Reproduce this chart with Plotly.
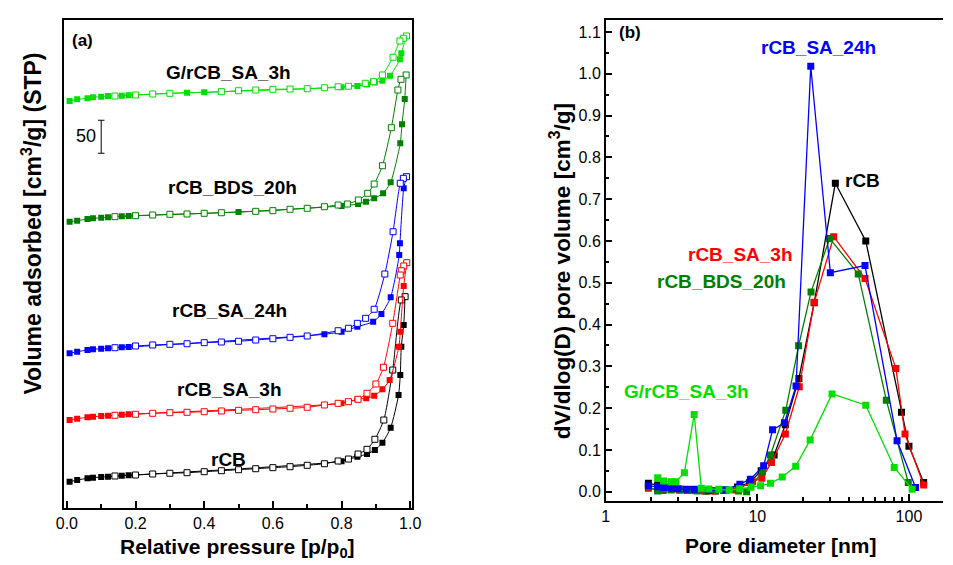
import plotly.graph_objects as go

# ---------------- (a) N2 adsorption/desorption isotherms (vertically offset) ----------------
# rCB
P_ADS_RCB = [0.008, 0.03, 0.06, 0.076, 0.10, 0.12, 0.16, 0.18, 0.80, 0.846, 0.874, 0.897, 0.919, 0.943, 0.966, 0.971, 0.974, 0.981, 0.985]
V_ADS_RCB = [39.8, 42.4, 45.0, 45.9, 47.0, 47.4, 48.9, 49.5, 70.8, 77.7, 81.8, 87.9, 98.9, 121.7, 171.2, 201.5, 244.4, 277.3, 320.2]
P_DES_RCB = [0.985, 0.974, 0.949, 0.923, 0.897, 0.874, 0.848, 0.82, 0.79, 0.75, 0.70, 0.65, 0.60, 0.55, 0.50, 0.45, 0.40, 0.35, 0.30, 0.25, 0.20, 0.14]
V_DES_RCB = [320.2, 315.2, 209.1, 133.3, 104.1, 88.9, 81.8, 74.2, 71.2, 67.1, 64.7, 62.6, 61.1, 59.5, 58.0, 56.5, 55.0, 53.5, 52.6, 51.5, 50.0, 48.5]

# rCB_SA_3h
P_ADS_SA3 = [0.008, 0.03, 0.06, 0.076, 0.10, 0.12, 0.16, 0.18, 0.80, 0.846, 0.872, 0.895, 0.919, 0.94, 0.967, 0.971, 0.981, 0.99]
V_ADS_SA3 = [133.3, 135.3, 137.4, 138.3, 139.4, 139.8, 141.4, 142.0, 158.6, 164.7, 166.2, 170.2, 179.8, 193.9, 244.4, 267.1, 336.4, 371.7]
P_DES_SA3 = [0.99, 0.981, 0.974, 0.971, 0.949, 0.922, 0.90, 0.874, 0.848, 0.82, 0.79, 0.75, 0.70, 0.65, 0.60, 0.55, 0.50, 0.45, 0.40, 0.35, 0.30, 0.25, 0.20, 0.14]
V_DES_SA3 = [371.7, 366.7, 359.5, 353.0, 279.8, 213.2, 187.9, 173.8, 164.7, 161.1, 158.6, 156.1, 152.6, 151.1, 150.0, 148.9, 148.0, 147.0, 145.9, 145.0, 144.4, 143.5, 142.0, 140.5]

# rCB_SA_24h
P_ADS_SA24 = [0.008, 0.03, 0.06, 0.076, 0.10, 0.12, 0.16, 0.18, 0.75, 0.80, 0.846, 0.892, 0.916, 0.943, 0.968, 0.970, 0.981, 0.989]
V_ADS_SA24 = [234.4, 236.8, 239.4, 240.5, 241.4, 242.0, 243.5, 243.9, 263.2, 267.1, 274.7, 282.3, 293.9, 319.2, 383.3, 401.1, 484.4, 502.0]
P_DES_SA24 = [0.989, 0.98, 0.971, 0.95, 0.926, 0.895, 0.87, 0.846, 0.82, 0.79, 0.70, 0.65, 0.60, 0.55, 0.50, 0.45, 0.40, 0.35, 0.30, 0.25, 0.20, 0.14]
V_DES_SA24 = [502.0, 499.5, 492.0, 418.6, 354.5, 301.1, 287.4, 279.8, 272.3, 268.6, 260.6, 258.6, 256.5, 254.5, 252.6, 251.5, 250.5, 248.9, 248.0, 247.0, 245.5, 242.9]

# rCB_BDS_20h
P_ADS_BDS = [0.008, 0.03, 0.06, 0.076, 0.10, 0.12, 0.16, 0.18, 0.50, 0.80, 0.848, 0.871, 0.895, 0.921, 0.943, 0.971, 0.976, 0.984, 0.988]
V_ADS_BDS = [433.8, 435.3, 437.9, 438.9, 439.8, 440.5, 442.0, 442.4, 448.5, 457.6, 460.6, 464.1, 469.2, 476.8, 493.5, 552.6, 581.4, 619.7, 656.1]
P_DES_BDS = [0.988, 0.973, 0.964, 0.945, 0.919, 0.895, 0.876, 0.849, 0.817, 0.79, 0.75, 0.70, 0.65, 0.60, 0.55, 0.45, 0.40, 0.35, 0.30, 0.25, 0.20, 0.14]
V_DES_BDS = [656.1, 649.5, 633.3, 576.2, 518.6, 490.9, 476.8, 466.7, 460.6, 459.1, 456.5, 454.1, 452.6, 450.5, 449.5, 447.4, 446.5, 445.5, 445.0, 443.9, 442.9, 441.4]

# G/rCB_SA_3h
P_ADS_G = [0.008, 0.03, 0.06, 0.076, 0.10, 0.12, 0.16, 0.18, 0.35, 0.40, 0.80, 0.846, 0.874, 0.897, 0.919, 0.941, 0.970, 0.974, 0.989]
V_ADS_G = [616.7, 619.2, 620.8, 622.3, 623.2, 624.2, 624.7, 625.3, 629.2, 629.8, 637.4, 639.4, 641.7, 644.7, 647.4, 655.0, 679.8, 688.9, 715.2]
P_DES_G = [0.989, 0.98, 0.97, 0.95, 0.919, 0.893, 0.869, 0.82, 0.79, 0.75, 0.70, 0.65, 0.60, 0.55, 0.50, 0.45, 0.30, 0.25, 0.20, 0.14]
V_DES_G = [715.2, 711.7, 707.6, 682.9, 656.1, 645.9, 643.5, 639.0, 638.3, 636.8, 635.3, 634.8, 634.4, 633.3, 632.3, 630.8, 628.3, 627.3, 625.8, 624.2]

# ---------------- (b) BJH pore size distributions ----------------
D_RCB = [1.91, 2.2, 2.43, 2.75, 3.1, 3.5, 4.0, 4.6, 5.3, 6.2, 7.4, 8.9, 10.6, 12.9, 15.3, 18.8, 23.7, 32.7, 51.9, 89.3, 100, 125]
PSD_RCB = [0.020, 0.016, 0.012, 0.008, 0.006, 0.005, 0.003, 0.002, 0.002, 0.004, 0.011, 0.022, 0.050, 0.088, 0.160, 0.271, 0.452, 0.738, 0.600, 0.190, 0.109, 0.022]

D_SA3 = [1.91, 2.2, 2.39, 2.7, 3.05, 3.45, 3.9, 4.45, 5.1, 6.0, 7.2, 9.3, 10.7, 12.4, 15.3, 18.9, 23.7, 31.9, 51.3, 82, 94.2, 125]
PSD_SA3 = [0.008, 0.005, 0.003, 0.004, 0.004, 0.003, 0.003, 0.002, 0.002, 0.003, 0.004, 0.024, 0.032, 0.070, 0.138, 0.251, 0.453, 0.610, 0.510, 0.295, 0.138, 0.016]

D_SA24 = [1.91, 2.2, 2.41, 2.7, 3.0, 3.4, 3.83, 4.78, 6.0, 7.67, 8.99, 11.0, 12.6, 15.1, 18.0, 22.5, 30.3, 51.3, 83.5, 110.6]
PSD_SA24 = [0.014, 0.012, 0.010, 0.008, 0.007, 0.006, 0.006, 0.003, 0.004, 0.018, 0.030, 0.062, 0.148, 0.165, 0.253, 1.018, 0.524, 0.541, 0.122, 0.010]

D_BDS = [1.91, 2.2, 2.4, 2.7, 3.1, 3.5, 4.0, 4.6, 5.3, 6.2, 7.5, 8.5, 10.8, 12.2, 15.4, 18.7, 22.6, 30.0, 46.3, 70.9, 99]
PSD_BDS = [0.012, 0.002, 0.006, 0.005, 0.004, 0.003, 0.002, 0.002, 0.003, 0.004, 0.002, 0.0, 0.048, 0.088, 0.195, 0.349, 0.478, 0.606, 0.521, 0.219, 0.022]

D_G = [2.2, 2.41, 2.70, 2.90, 3.30, 3.83, 4.27, 4.78, 5.58, 6.51, 7.64, 9.08, 10.5, 12.2, 14.6, 17.9, 22.3, 31.1, 51.9, 80, 105]
PSD_G = [0.0335, 0.0256, 0.024, 0.024, 0.0455, 0.185, 0.008, 0.0065, 0.0057, 0.004, 0.007, 0.0105, 0.0144, 0.020, 0.035, 0.061, 0.124, 0.234, 0.207, 0.058, 0.006]

BLACK, RED, BLUE, DGREEN, LGREEN = "#000000", "#ff0000", "#0000ff", "#008000", "#00e000"
FONT = "Liberation Sans, Arial, sans-serif"
W, H = 953, 565

fig = go.Figure()

isotherms = [
    (P_ADS_RCB, V_ADS_RCB, P_DES_RCB, V_DES_RCB, BLACK),
    (P_ADS_SA3, V_ADS_SA3, P_DES_SA3, V_DES_SA3, RED),
    (P_ADS_SA24, V_ADS_SA24, P_DES_SA24, V_DES_SA24, BLUE),
    (P_ADS_BDS, V_ADS_BDS, P_DES_BDS, V_DES_BDS, DGREEN),
    (P_ADS_G, V_ADS_G, P_DES_G, V_DES_G, LGREEN),
]
for pa, va, pd_, vd, c in isotherms:
    # adsorption branch: filled squares
    fig.add_trace(go.Scatter(
        x=pa, y=va, mode="lines+markers", xaxis="x", yaxis="y",
        line=dict(color=c, width=1, shape="spline", smoothing=0.6),
        marker=dict(symbol="square", size=6, color=c, line=dict(width=0)),
        showlegend=False, hoverinfo="skip"))
    # desorption branch: open squares
    fig.add_trace(go.Scatter(
        x=pd_, y=vd, mode="lines+markers", xaxis="x", yaxis="y",
        line=dict(color=c, width=1, shape="spline", smoothing=0.6),
        marker=dict(symbol="square", size=6, color="white", line=dict(color=c, width=1)),
        showlegend=False, hoverinfo="skip"))

psd = [
    (D_RCB, PSD_RCB, BLACK),
    (D_SA3, PSD_SA3, RED),
    (D_BDS, PSD_BDS, DGREEN),
    (D_SA24, PSD_SA24, BLUE),
    (D_G, PSD_G, LGREEN),
]
for d, v, c in psd:
    fig.add_trace(go.Scatter(
        x=d, y=v, mode="lines+markers", xaxis="x2", yaxis="y2",
        line=dict(color=c, width=1.3),
        marker=dict(symbol="square", size=7, color=c, line=dict(width=0)),
        showlegend=False, hoverinfo="skip"))

def px2paper(px, py):
    return px / W, 1 - py / H

ax_common = dict(showline=True, linecolor="black", linewidth=1.5,
                 showgrid=False, zeroline=False,
                 tickfont=dict(family=FONT, size=16, color="black"))

fig.update_layout(
    width=W, height=H, margin=dict(l=0, r=0, t=0, b=0),
    plot_bgcolor="white", paper_bgcolor="white",
    font=dict(family=FONT, color="black"),
    xaxis=dict(**ax_common, mirror=True, domain=[56.7 / W, 411.7 / W], range=[-0.0094, 1.0049],
               tickmode="linear", tick0=0, dtick=0.2, tickformat=".1f",
               ticks="inside", ticklen=7, tickwidth=1.5, tickcolor="black",
               minor=dict(ticks="inside", ticklen=4, tickwidth=1.5, dtick=0.1, tickcolor="black"),
               anchor="y"),
    yaxis=dict(**ax_common, mirror=True, domain=[1 - 508 / H, 1 - 20 / H], range=[0, 739.4],
               showticklabels=False, ticks="", anchor="x"),
    # panel (b) continues past the right edge of the figure, so no right frame line
    xaxis2=dict(**ax_common, mirror=True, type="log", domain=[609.3 / W, 1.0], range=[0, 2.2247],
                tickvals=[1, 10, 100], ticktext=["1", "10", "100"],
                ticks="inside", ticklen=7, tickwidth=1.5, tickcolor="black",
                minor=dict(ticks="inside", ticklen=4, tickwidth=1.5, tickcolor="black", dtick="D1"),
                anchor="y2"),
    yaxis2=dict(**ax_common, mirror=False, domain=[1 - 500.7 / H, 1 - 20 / H], range=[-0.0215, 1.1285],
                tickmode="linear", tick0=0, dtick=0.1, tickformat=".1f",
                ticks="inside", ticklen=6, tickwidth=1.5, tickcolor="black",
                minor=dict(ticks="inside", ticklen=3.5, tickwidth=1.5, dtick=0.05, tickcolor="black"),
                anchor="x2"),
)

# 50 cm3/g scale bar in panel (a)
bar_x, bar_y0, bar_y1, cap = 0.1, 537.5, 587.5, 0.0095
for x0, y0, x1, y1 in [(bar_x, bar_y0, bar_x, bar_y1),
                       (bar_x - cap, bar_y0, bar_x + cap, bar_y0),
                       (bar_x - cap, bar_y1, bar_x + cap, bar_y1)]:
    fig.add_shape(type="line", xref="x", yref="y", x0=x0, y0=y0, x1=x1, y1=y1,
                  line=dict(color="black", width=1))

def label(text, px, py, size, color="black", bold=True, angle=0):
    x, y = px2paper(px, py)
    fig.add_annotation(text=f"<b>{text}</b>" if bold else text, x=x, y=y,
                       xref="paper", yref="paper", showarrow=False,
                       xanchor="center", yanchor="middle", textangle=angle,
                       font=dict(family=FONT, size=size, color=color))

# axis titles
label("Volume adsorbed [cm<sup>3</sup>/g] (STP)", 24, 224, 23, angle=-90)
label("Relative pressure [p/p<sub>0</sub>]", 234, 548, 21)
label("dV/dlog(D) pore volume [cm<sup>3</sup>/g]", 563, 271, 22.5, angle=-90)
label("Pore diameter [nm]", 787, 545, 21)

# panel (a) texts
label("(a)", 76, 41, 17)
label("50", 80, 136, 18, bold=False)
label("G/rCB_SA_3h", 225, 72, 19)
label("rCB_BDS_20h", 229, 188, 19)
label("rCB_SA_24h", 226, 310, 19)
label("rCB_SA_3h", 226, 389, 19)
label("rCB", 225, 459, 19)

# panel (b) texts
label("(b)", 634, 32, 17)
label("rCB_SA_24h", 826, 47, 19, BLUE)
label("rCB", 871, 180, 19)
label("rCB_SA_3h", 747, 254, 19, RED)
label("rCB_BDS_20h", 727, 281, 19, DGREEN)
label("G/rCB_SA_3h", 692, 391, 19, LGREEN)

fig.write_html("out.html")
